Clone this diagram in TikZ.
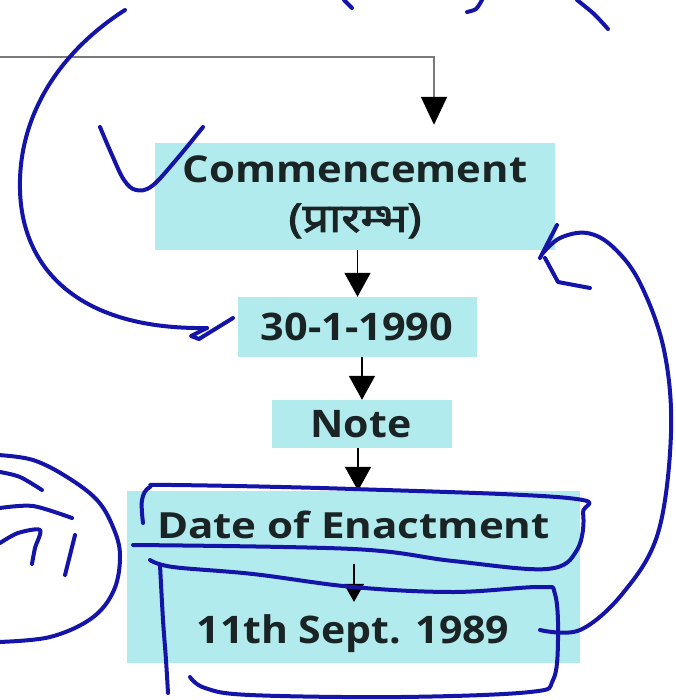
\documentclass[tikz,border=0pt]{standalone}
\usepackage{fontspec}
\setmainfont{Open Sans}
\newfontfamily\deva[Script=Devanagari,FakeBold=2]{Noto Sans}
\usetikzlibrary{arrows.meta,calc}
\definecolor{boxcyan}{HTML}{B2EBEE}
\definecolor{ink}{HTML}{1A2424}
\definecolor{pen}{HTML}{1414A8}
\definecolor{conn}{HTML}{7A7A7A}
\newcommand{\wide}[2]{\scalebox{#1}[1]{#2}}
\begin{document}
\begin{tikzpicture}[x=1pt,y=-1pt,
  box/.style={fill=boxcyan, inner sep=0pt},
  lbl/.style={inner sep=0pt, text=ink, anchor=base},
  arr/.style={draw=black, line width=1.6pt, -{Triangle[length=24pt,width=26pt]}},
  arrsmall/.style={draw=black, line width=1.4pt, -{Triangle[length=18pt,width=20pt]}},
  feed/.style={draw=conn, line width=2pt, -{Triangle[length=28pt,width=26pt,color=black,fill=black]}},
  penline/.style={draw=pen, line width=4pt, line cap=round, line join=round}
]
\useasboundingbox (0,0) rectangle (675,700);
% boxes
\node[box, minimum width=400pt, minimum height=107pt] (comm) at (355,196.5) {};
\node[box, minimum width=239pt, minimum height=60pt] (d30) at (357.5,327) {};
\node[box, minimum width=180pt, minimum height=48pt] (note) at (362,424) {};
\node[box, minimum width=453pt, minimum height=172pt] (big) at (353.5,577) {};
% texts
\node[lbl, font=\bfseries\fontsize{37}{37}\selectfont] (commtxt) at (355,183) {\wide{1.13}{Commencement}};
\node[lbl, font=\fontsize{40}{40}\selectfont] (hindi) at (355,232) {\wide{1.17}{\deva (प्रारम्भ)}};
\node[lbl, font=\bfseries\fontsize{38}{38}\selectfont] (d30txt) at (357,340) {\wide{1.09}{30-1-1990}};
\node[lbl, font=\bfseries\fontsize{38}{38}\selectfont] (notetxt) at (361,437) {\wide{1.08}{Note}};
\node[lbl, font=\bfseries\fontsize{36}{36}\selectfont] (date) at (353.5,538) {\wide{1.17}{Date of Enactment}};
\node[lbl, font=\bfseries\fontsize{38}{38}\selectfont] (sept) at (353,643) {\wide{1.08}{11th Sept. 1989}};
% connectors
\coordinate (ax) at (358,0);
\coordinate (ix) at (354,0);
\coordinate (src) at (0,57);
\draw[feed] (src) -| ([xshift=79pt,yshift=18pt]comm.north);
\draw[arr] (comm.south -| d30.north) -- (d30.north);
\draw[arr] (d30.south -| note.north) -- (note.north);
\draw[arr] (note.south -| ax) -- (big.north -| ax);
\draw[arrsmall, shorten <=25pt, shorten >=12pt] (date.south -| ix) -- (sept.north -| ix);
% hand-drawn annotations
\draw[penline] (125,10) .. controls (55,55) and (18,120) .. (20,190) .. controls (22,270) and (80,330) .. (207,328);
\draw[penline] (207,328) -- (191,336) -- (199,339) -- (233,318);
\draw[penline] plot[smooth, tension=0.6] coordinates {(100,127) (112,155) (124,180) (136,190) (152,186) (176,160) (203,127)};
\draw[penline] (344,0) -- (352,8);
\draw[penline] plot[smooth] coordinates {(482,0) (476,9) (467,12)};
\draw[penline] plot[smooth] coordinates {(577,0) (594,14) (608,29)};
\draw[penline] plot[smooth, tension=0.6] coordinates {(540,630) (580,630) (623,593) (658,533) (671,433) (664,350) (640,283) (613,247) (587,233) (560,238) (543,253)};
\draw[penline] (557,225) -- (540,258);
\draw[penline] (545,258) -- (558,282) -- (590,288);
\draw[penline] plot[smooth, tension=0.6] coordinates {(143,523) (142,500) (150,487) (172,485) (353,489) (568,498) (583,513) (577,550) (547,569) (453,561) (353,549) (133,545)};
\draw[penline] plot[smooth, tension=0.6] coordinates {(150,560) (173,567) (253,574) (353,587) (453,592) (540,587) (555,594) (558,640) (553,680) (530,692) (400,697) (250,695) (205,688) (190,677)};
\draw[penline] plot[smooth] coordinates {(160,565) (163,620) (166,660) (168,693)};
\draw[penline] plot[smooth, tension=0.6] coordinates {(-2,455) (33,460) (67,477) (97,500) (113,527) (120,555) (114,590) (92,618) (50,637) (-2,642)};
\draw[penline] plot[smooth] coordinates {(0,472) (20,477) (42,490)};
\draw[penline] plot[smooth] coordinates {(0,508) (33,506) (72,518)};
\draw[penline] plot[smooth, tension=0.5] coordinates {(0,543) (18,533) (40,530) (35,548) (32,564)};
\draw[penline] plot[smooth] coordinates {(75,535) (70,555) (65,575)};
\end{tikzpicture}
\end{document}
